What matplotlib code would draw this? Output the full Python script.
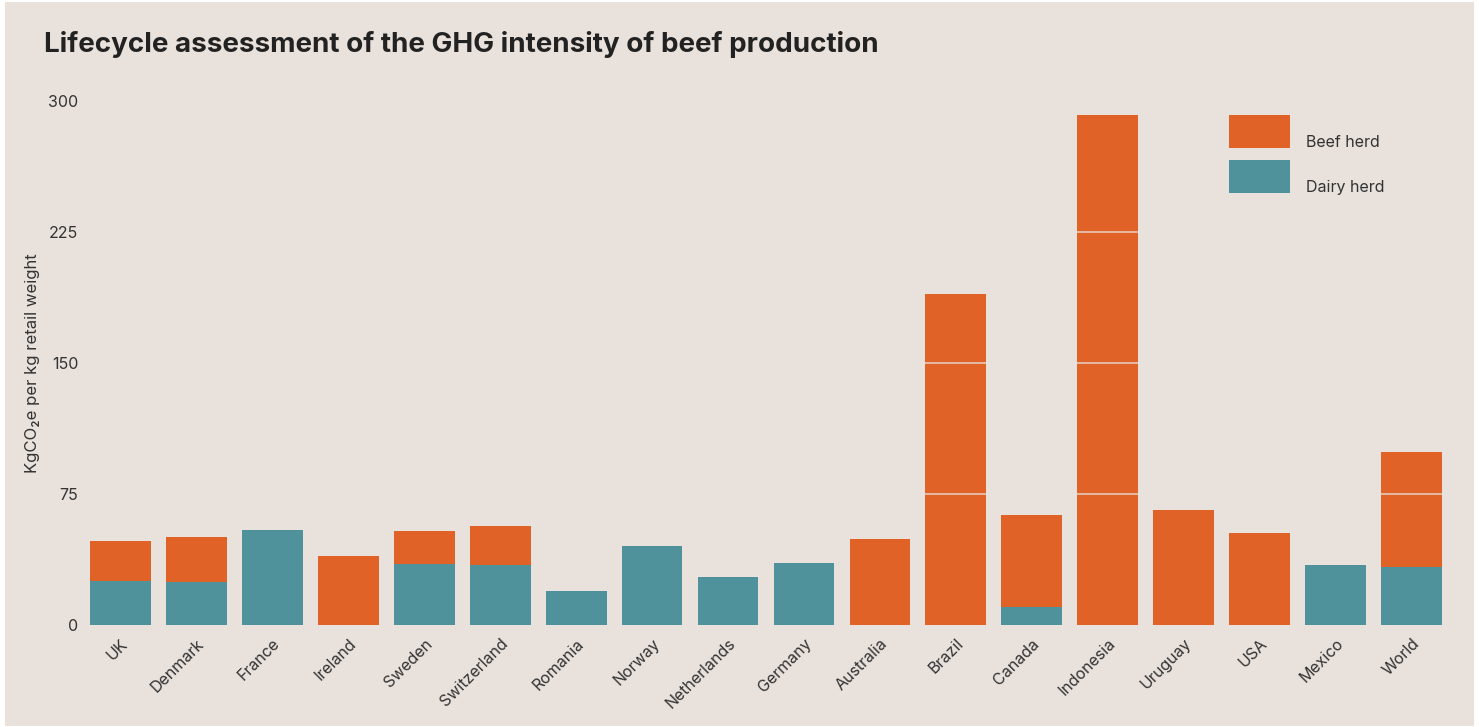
import matplotlib
matplotlib.use("Agg")
import matplotlib.pyplot as plt
from matplotlib.patches import Rectangle

countries = ["UK", "Denmark", "France", "Ireland", "Sweden", "Switzerland",
             "Romania", "Norway", "Netherlands", "Germany", "Australia",
             "Brazil", "Canada", "Indonesia", "Uruguay", "USA", "Mexico", "World"]
dairy = [25, 24.8, 54.4, 0, 35, 34.3, 19.5, 45.2, 27.5, 35.5, 0, 0, 10.2, 0, 0, 0, 34.3, 33.2]
beef = [23, 25.6, 0, 39.5, 18.8, 22.4, 0, 0, 0, 0, 49.2, 189.7, 52.8, 292, 65.8, 52.7, 0, 65.8]
yticks = [0, 75, 150, 225, 300]

bg = "#e8e1dc"
orange = "#e06226"
teal = "#4f929b"
txt = "#333333"

plt.rcParams["font.family"] = ["Inter", "DejaVu Sans"]

W, H = 1479, 727
fig = plt.figure(figsize=(W / 100, H / 100), dpi=100, facecolor="white")
fig.add_artist(Rectangle((5 / W, 1 / H), 1469 / W, 724 / H, transform=fig.transFigure,
                         facecolor=bg, edgecolor="none", zorder=-10))

ax = fig.add_axes([82.5 / W, (H - 625) / H, 1367 / W, 524 / H])
ax.set_facecolor(bg)
ax.patch.set_alpha(0)

x = range(len(countries))
ax.bar(x, dairy, width=0.8, color=teal, zorder=2)
ax.bar(x, beef, width=0.8, bottom=dairy, color=orange, zorder=2)

# grid lines in the background colour, only visible where they cross a bar
for y in yticks[1:-1]:
    ax.axhline(y, color=bg, lw=1.3, alpha=0.75, zorder=3)

ax.set_xlim(-0.5, len(countries) - 0.5)
ax.set_ylim(0, 300)
ax.set_yticks(yticks)
ax.set_yticklabels([str(v) for v in yticks], fontsize=11.5, color=txt)
ax.set_xticks(list(x))
ax.set_xticklabels(countries, rotation=45, ha="right", rotation_mode="anchor",
                   fontsize=11.5, color=txt)
ax.tick_params(axis="both", length=0)
ax.tick_params(axis="y", pad=3)
ax.tick_params(axis="x", pad=8)
for s in ax.spines.values():
    s.set_visible(False)

ax.set_ylabel("KgCO₂e per kg retail weight", fontsize=12, color=txt, labelpad=6)

fig.text(44 / W, 1 - 52 / H, "Lifecycle assessment of the GHG intensity of beef production",
         fontsize=20, fontweight="bold", color="#222222", va="baseline")

# legend
for i, (lab, col) in enumerate([("Beef herd", orange), ("Dairy herd", teal)]):
    top = 115 + i * 45
    fig.add_artist(Rectangle((1229 / W, 1 - (top + 33) / H), 61 / W, 33 / H,
                             transform=fig.transFigure, facecolor=col, edgecolor="none"))
    fig.text(1306 / W, 1 - (top + 32) / H, lab, fontsize=11.5, color=txt, va="baseline")

fig.savefig("out.png", dpi=100, facecolor="white")
